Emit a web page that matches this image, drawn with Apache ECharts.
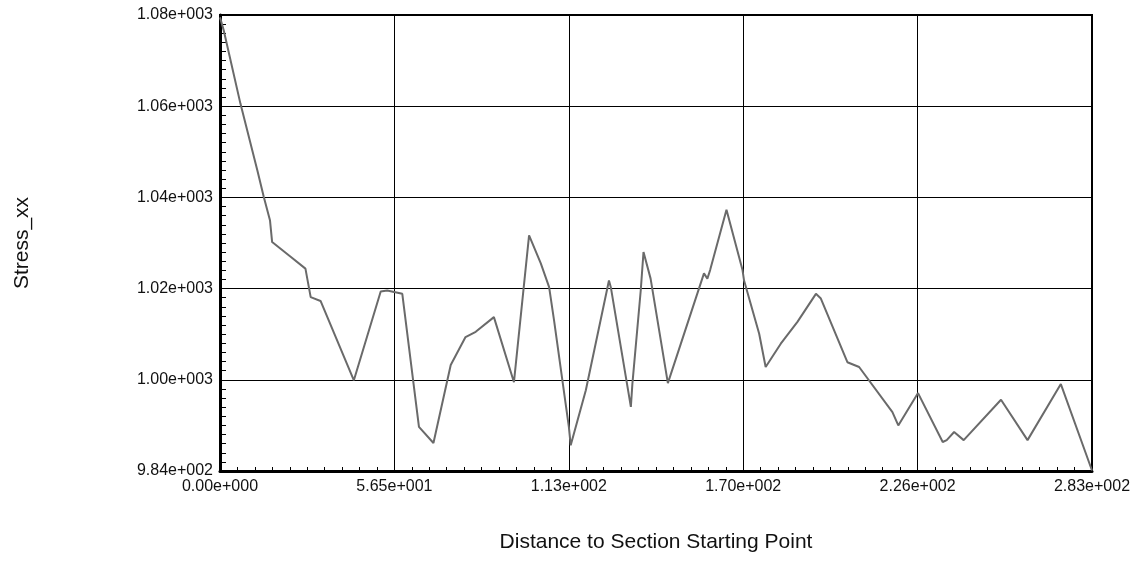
<!DOCTYPE html>
<html>
<head>
<meta charset="utf-8">
<script src="https://cdn.jsdelivr.net/npm/echarts@6/dist/echarts.min.js"></script>
<style>
html,body{margin:0;padding:0;background:#fff;}
#c{width:1143px;height:565px;}
</style>
</head>
<body>
<div id="c"></div>
<script>
// Distance to section starting point
const distance = [0, 1.2, 6.6, 12.1, 14.2, 16.2, 16.9, 22.9, 27.7, 28.8, 29.4, 32.6, 43.4, 52.1, 54.2, 59.1, 64.5, 69.2, 74.8, 79.6, 82.9, 88.8, 95.3, 100.2, 104.0, 106.7, 108.3, 113.1, 113.7, 118.6, 126.1, 126.7, 133.2, 133.7, 136.4, 137.3, 139.6, 145.2, 156.9, 158.0, 158.9, 164.2, 169.4, 169.9, 174.8, 176.9, 181.8, 187.2, 193.2, 194.8, 203.4, 207.2, 218.0, 219.9, 226.3, 234.3, 235.6, 238.0, 241.1, 253.2, 261.8, 272.6, 282.7];
// Stress_xx values
const stressXX = [1079.5, 1076.8, 1061.4, 1047.3, 1041.7, 1036.8, 1032.2, 1029.1, 1026.6, 1022.7, 1020.6, 1019.8, 1003.1, 1021.8, 1022.0, 1021.3, 993.3, 989.9, 1006.3, 1012.2, 1013.3, 1016.4, 1002.7, 1033.6, 1027.7, 1022.7, 1015.7, 993.3, 989.4, 1001.0, 1024.1, 1022.7, 997.5, 1002.4, 1022.0, 1030.1, 1024.5, 1002.5, 1025.6, 1024.5, 1026.3, 1039.0, 1026.3, 1024.1, 1012.9, 1005.9, 1010.8, 1015.4, 1021.3, 1020.3, 1006.9, 1005.9, 996.4, 993.6, 1000.4, 990.1, 990.5, 992.2, 990.5, 999.0, 990.5, 1002.3, 984.1];
const xTickLabels = ['0.00e+000', '5.65e+001', '1.13e+002', '1.70e+002', '2.26e+002', '2.83e+002'];
const yTickLabels = ['9.84e+002', '1.00e+003', '1.02e+003', '1.04e+003', '1.06e+003', '1.08e+003'];
const xMin = 0, xMax = 282.7, yMin = 984, yMax = 1080;

const points = distance.map((d, i) => [d, stressXX[i]]);
const chart = echarts.init(document.getElementById('c'), null, {renderer: 'canvas'});
const font = 'Liberation Sans, Arial, sans-serif';
chart.setOption({
  animation: false,
  backgroundColor: '#ffffff',
  grid: {left: 220, right: 51, top: 15, bottom: 94, show: true, borderColor: '#000', borderWidth: 2, containLabel: false},
  xAxis: {
    type: 'value', min: xMin, max: xMax, interval: (xMax - xMin) / 5,
    name: 'Distance to Section Starting Point', nameLocation: 'middle', nameGap: 61,
    nameTextStyle: {fontFamily: font, fontSize: 21, color: '#111'},
    axisLine: {show: true, lineStyle: {color: '#000', width: 3}},
    axisTick: {show: true, inside: true, length: 4, lineStyle: {color: '#000'}},
    minorTick: {show: true, splitNumber: 10, length: 4, lineStyle: {color: '#000', width: 1}},
    splitLine: {show: true, lineStyle: {color: '#000', width: 1}},
    axisLabel: {fontFamily: font, fontSize: 16, color: '#111', margin: 8,
      formatter: (v, i) => xTickLabels[i] !== undefined ? xTickLabels[i] : ''}
  },
  yAxis: {
    type: 'value', min: yMin, max: yMax, interval: (yMax - yMin) / 5,
    name: 'Stress_xx', nameLocation: 'middle', nameGap: 187, nameRotate: 90,
    nameTextStyle: {fontFamily: font, fontSize: 21, color: '#111'},
    axisLine: {show: true, lineStyle: {color: '#000', width: 3}},
    axisTick: {show: true, inside: true, length: 6, lineStyle: {color: '#000'}},
    minorTick: {show: true, splitNumber: 10, length: 6, lineStyle: {color: '#000', width: 1}},
    splitLine: {show: true, lineStyle: {color: '#000', width: 1}},
    axisLabel: {fontFamily: font, fontSize: 16, color: '#111', margin: 7,
      formatter: (v, i) => yTickLabels[i] !== undefined ? yTickLabels[i] : ''}
  },
  series: [{
    type: 'line', data: points, showSymbol: false, symbol: 'none',
    lineStyle: {color: '#6a6a6a', width: 2}, z: 5
  }]
});
</script>
</body>
</html>
